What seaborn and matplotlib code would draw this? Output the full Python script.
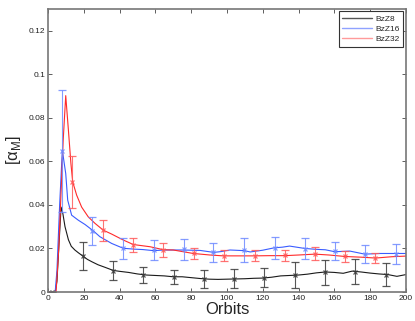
import numpy as np
import pandas as pd
import matplotlib
matplotlib.use("Agg")
import matplotlib.pyplot as plt
import seaborn as sns

# ---- data ----
x_bzz8 = [0, 2, 4, 5, 6, 7.3, 8.3, 9.5, 11.4, 13, 15, 17, 19.5, 22, 24.5, 28, 32, 36.5, 40, 45, 50,
          55, 60, 65, 70, 75, 80, 85, 90, 95, 100, 105, 110, 115, 120, 125, 130, 135, 140, 145,
          150, 155, 160, 165, 170, 175, 180, 185, 190, 195, 200]
y_bzz8 = [0, 0, 0, 0.005, 0.02, 0.039, 0.036, 0.030, 0.024, 0.021, 0.0193, 0.018, 0.0165, 0.015,
          0.0139, 0.0125, 0.0113, 0.0099, 0.0095, 0.009, 0.0083, 0.0078, 0.0076, 0.0074, 0.007,
          0.007, 0.0066, 0.0062, 0.0059, 0.0058, 0.0059, 0.0060, 0.0061, 0.0063, 0.0064, 0.0068,
          0.0074, 0.0076, 0.0078, 0.0082, 0.0088, 0.0092, 0.0090, 0.0086, 0.0096, 0.0092, 0.0087,
          0.0083, 0.008, 0.0072, 0.008]

x_bzz16 = [0, 2, 4, 5, 6.5, 8, 9.9, 11, 13.2, 16.9, 20.7, 25.3, 29, 35.6, 42, 48, 53, 59, 65, 70,
           75.6, 80, 85, 92.7, 97, 101.7, 109.7, 113, 120, 126.4, 131, 135, 143.6, 150, 155, 160.3,
           168.7, 177, 185.5, 194.4, 200]
y_bzz16 = [0, 0, 0, 0.01, 0.04, 0.0651, 0.0544, 0.0422, 0.0353, 0.033, 0.031, 0.0281, 0.0254,
           0.0223, 0.0201, 0.0197, 0.0195, 0.0190, 0.0193, 0.0193, 0.0193, 0.0192, 0.0191, 0.0182,
           0.0186, 0.0193, 0.0190, 0.0184, 0.0192, 0.0203, 0.0206, 0.0211, 0.0200, 0.0196, 0.0194,
           0.0185, 0.0188, 0.0174, 0.0177, 0.0177, 0.0177]

x_bzz32 = [0, 2, 4.5, 6, 7.5, 8.5, 9.9, 11.4, 12.8, 13.8, 16, 18.8, 22.5, 26.3, 30.9, 35.6, 42,
           47.7, 57, 64.6, 70, 81.2, 90.5, 98, 106, 115, 124, 132.4, 140, 149.2, 157, 166.3, 175,
           183.1, 192, 200]
y_bzz32 = [0, 0, 0, 0.02, 0.05, 0.07, 0.0902, 0.0743, 0.059, 0.0506, 0.0445, 0.039, 0.0345,
           0.0315, 0.0284, 0.0266, 0.0239, 0.0218, 0.0208, 0.0194, 0.0193, 0.0177, 0.017, 0.0166,
           0.0166, 0.0166, 0.0167, 0.0167, 0.0170, 0.0174, 0.0170, 0.0163, 0.0160, 0.0156, 0.0162,
           0.0165]

# error-bar samples
ex_bzz8 = [2.5, 19.5, 36.5, 53.2, 70.2, 87.1, 104, 120.8, 137.8, 154.9, 171.7, 188.8]
ey_bzz8 = [0.0, 0.0165, 0.0098, 0.0078, 0.0070, 0.0060, 0.0061, 0.0066, 0.0077, 0.0090, 0.0093, 0.0080]
ee_bzz8 = [0.0, 0.0064, 0.0044, 0.0035, 0.0032, 0.0040, 0.0043, 0.0045, 0.0060, 0.0057, 0.0057, 0.0052]

ex_bzz16 = [8, 24.8, 42.1, 59, 75.8, 92.4, 109.5, 126.6, 143.6, 160.5, 177.3, 194.4]
ey_bzz16 = [0.0648, 0.028, 0.020, 0.0193, 0.0196, 0.0182, 0.0194, 0.0202, 0.0199, 0.0188, 0.0174, 0.0174]
ee_bzz16 = [0.028, 0.0066, 0.0050, 0.0045, 0.0048, 0.0044, 0.0055, 0.0050, 0.0049, 0.0043, 0.0043, 0.0047]

ex_bzz32 = [13.6, 30.5, 47.7, 64.4, 81.6, 98.3, 115.5, 132.4, 149.3, 166.1, 183]
ey_bzz32 = [0.0506, 0.0284, 0.0217, 0.0194, 0.0177, 0.0167, 0.0167, 0.0168, 0.0176, 0.0165, 0.0157]
ee_bzz32 = [0.0120, 0.0048, 0.0032, 0.0032, 0.0024, 0.0025, 0.0025, 0.0027, 0.0029, 0.0025, 0.0022]

labels = ["BzZ8", "BzZ16", "BzZ32"]
x_ticks = [0, 20, 40, 60, 80, 100, 120, 140, 160, 180, 200]
y_ticks = [0, 0.02, 0.04, 0.06, 0.08, 0.1, 0.12]
y_tick_labels = ["0", "0.02", "0.04", "0.06", "0.08", "0.1", "0.12"]

# ---- styling ----
sns.set_style("ticks")
plt.rcParams["font.family"] = ["Liberation Sans", "DejaVu Sans"]
plt.rcParams["mathtext.fontset"] = "custom"
plt.rcParams["mathtext.rm"] = "Liberation Sans"

line_colors = ["#1a1a1a", "#3a5cff", "#ff2a2a"]
err_colors = ["#3a3a3a", "#6f8aff", "#ff5a5a"]

fig = plt.figure(figsize=(4.15, 3.21), dpi=100)
ax = fig.add_axes([0.1157, 0.0903, 0.978 - 0.1157, 0.972 - 0.0903])

frames = []
for lab, xs, ys in zip(labels, [x_bzz8, x_bzz16, x_bzz32], [y_bzz8, y_bzz16, y_bzz32]):
    frames.append(pd.DataFrame({"Orbits": xs, "alpha": ys, "run": lab}))
df = pd.concat(frames, ignore_index=True)

sns.lineplot(data=df, x="Orbits", y="alpha", hue="run", hue_order=labels,
             palette=dict(zip(labels, line_colors)), linewidth=0.8, ax=ax,
             estimator=None, sort=False)

for ex, ey, ee, c in zip([ex_bzz8, ex_bzz16, ex_bzz32], [ey_bzz8, ey_bzz16, ey_bzz32],
                         [ee_bzz8, ee_bzz16, ee_bzz32], err_colors):
    ax.errorbar(ex, ey, yerr=ee, fmt="x", color=c, ecolor=c, elinewidth=0.8,
                capsize=3, capthick=0.8, markersize=2.5, markeredgewidth=0.9, alpha=0.85)

ax.set_xlim(0, 200)
ax.set_ylim(0, 0.13)
ax.set_xticks(x_ticks)
ax.set_xticklabels([str(t) for t in x_ticks])
ax.set_yticks(y_ticks)
ax.set_yticklabels(y_tick_labels)
ax.tick_params(direction="in", top=True, right=True, labelsize=6, length=3, width=0.6,
               colors="#444444", labelcolor="#222222", pad=2)
for s in ax.spines.values():
    s.set_color("#777777")
    s.set_linewidth(1.2)
ax.set_xlabel("Orbits", fontsize=12, labelpad=0)
ax.set_ylabel("[α$_{\\mathrm{M}}$]", fontsize=12, labelpad=4)

handles, _ = ax.get_legend_handles_labels()
leg = ax.legend(handles[:3], labels, loc="upper right", fontsize=6, frameon=True,
                fancybox=False, edgecolor="#333333", framealpha=1, borderpad=0.4,
                handlelength=3.6, handletextpad=0.4, labelspacing=0.3,
                borderaxespad=0.3)
leg.get_frame().set_linewidth(0.8)
for h, c in zip(leg.get_lines(), ["#555555", "#8fa2ff", "#ff9a9a"]):
    h.set_color(c)
    h.set_linewidth(1.0)

fig.savefig("out.png", dpi=100)
